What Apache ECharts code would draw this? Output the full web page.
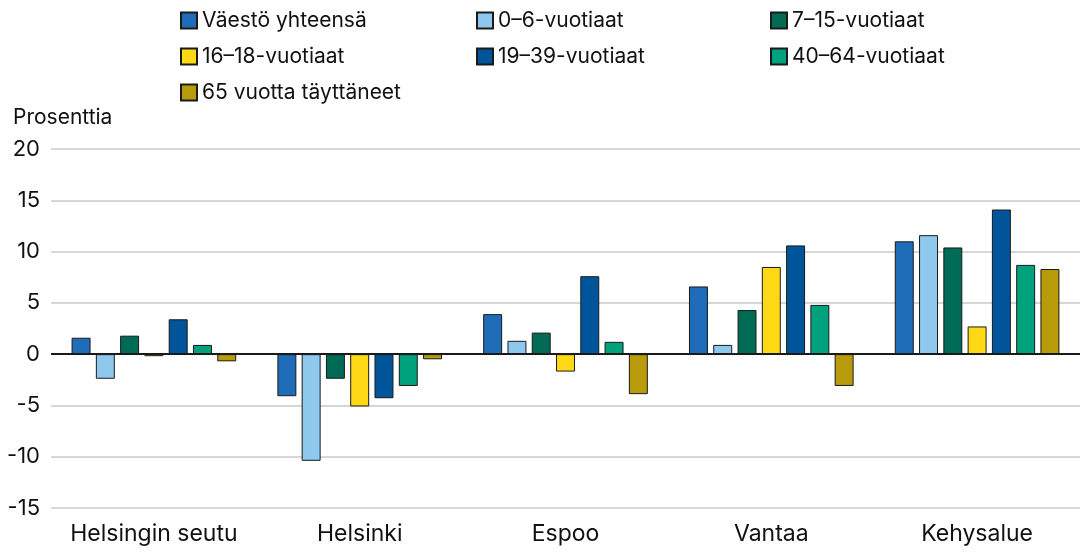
<!DOCTYPE html>
<html>
<head>
    <meta charset="utf-8">
    <title>Väestönmuutos</title>
    <script src="https://cdn.jsdelivr.net/npm/echarts@6/dist/echarts.min.js"></script>
    <style>
        html, body { margin: 0; padding: 0; background: #fff; }
        #main { width: 1080px; height: 552px; }
    </style>
</head>
<body>
<div id="main"></div>
<script>
    // data
    var categories = ['Helsingin seutu', 'Helsinki', 'Espoo', 'Vantaa', 'Kehysalue'];
    var seriesNames = ['Väestö yhteensä', '0–6-vuotiaat', '7–15-vuotiaat', '16–18-vuotiaat',
        '19–39-vuotiaat', '40–64-vuotiaat', '65 vuotta täyttäneet'];
    var vaesto = [1.6, -4.1, 3.9, 6.6, 11.0];
    var ika0_6 = [-2.4, -10.4, 1.3, 0.9, 11.6];
    var ika7_15 = [1.8, -2.4, 2.1, 4.3, 10.4];
    var ika16_18 = [-0.2, -5.1, -1.7, 8.5, 2.7];
    var ika19_39 = [3.4, -4.3, 7.6, 10.6, 14.1];
    var ika40_64 = [0.9, -3.1, 1.2, 4.8, 8.7];
    var ika65 = [-0.7, -0.5, -3.9, -3.1, 8.3];
    var yTicks = [-15, -10, -5, 0, 5, 10, 15, 20];

    var values = [vaesto, ika0_6, ika7_15, ika16_18, ika19_39, ika40_64, ika65];
    var colors = ['#1f6db8', '#8ec8ed', '#006b54', '#ffd916', '#00559a', '#00a17d', '#b89b0b'];
    var font = 'Inter, Roboto, "Noto Sans", sans-serif';

    var series = [];
    for (var i = 0; i < seriesNames.length; i++) {
        var s = {
            name: seriesNames[i],
            type: 'bar',
            data: values[i],
            barGap: '28%',
            barCategoryGap: '20%',
            itemStyle: { color: colors[i], borderColor: '#1a1a1a', borderWidth: 1 }
        };
        if (i == 0) {
            // zero line
            s.markLine = {
                silent: true,
                symbol: 'none',
                label: { show: false },
                lineStyle: { color: '#1a1a1a', width: 2, type: 'solid' },
                data: [{ yAxis: 0 }]
            };
        }
        series.push(s);
    }

    function legendCol(left, names) {
        return {
            orient: 'vertical',
            left: left,
            top: 5,
            data: names,
            itemWidth: 16,
            itemHeight: 16,
            itemGap: 15,
            icon: 'rect',
            textStyle: { fontFamily: font, fontSize: 21, color: '#111', lineHeight: 21 },
            selectedMode: false
        };
    }

    var myChart = echarts.init(document.getElementById('main'));
    var option = {
        animation: false,
        color: colors,
        textStyle: { fontFamily: font },
        legend: [
            legendCol(175, [seriesNames[0], seriesNames[3], seriesNames[6]]),
            legendCol(471, [seriesNames[1], seriesNames[4]]),
            legendCol(765, [seriesNames[2], seriesNames[5]])
        ],
        graphic: [{
            type: 'text',
            left: 13,
            top: 107,
            style: { text: 'Prosenttia', font: '21px ' + font, fill: '#111' }
        }],
        grid: { left: 51, right: 0, top: 149, bottom: 44 },
        xAxis: {
            type: 'category',
            data: categories,
            axisLine: { show: false },
            axisTick: { show: false },
            axisLabel: { fontSize: 23, color: '#111', margin: 15, interval: 0, fontFamily: font }
        },
        yAxis: {
            type: 'value',
            min: yTicks[0],
            max: yTicks[yTicks.length - 1],
            interval: 5,
            axisLabel: { fontSize: 22, color: '#111', margin: 11, fontFamily: font },
            splitLine: { lineStyle: { color: '#c8c8c8', width: 1.5 } },
            axisLine: { show: false },
            axisTick: { show: false }
        },
        series: series
    };
    myChart.setOption(option);
</script>
</body>
</html>
